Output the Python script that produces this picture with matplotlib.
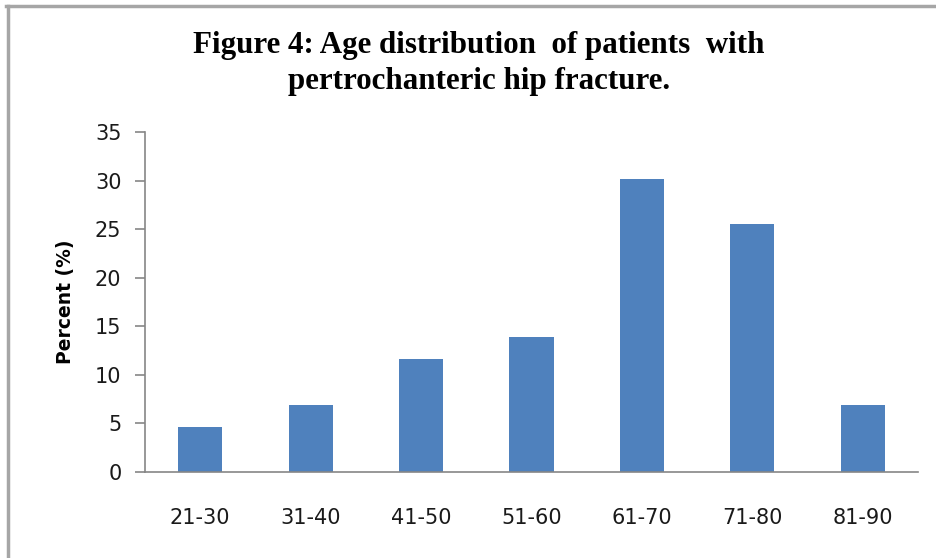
import matplotlib
matplotlib.use("Agg")
import matplotlib.pyplot as plt
from matplotlib.lines import Line2D

categories = ["21-30", "31-40", "41-50", "51-60", "61-70", "71-80", "81-90"]
percent = [4.6, 6.9, 11.6, 13.9, 30.2, 25.5, 6.9]
yticks = [0, 5, 10, 15, 20, 25, 30, 35]

W, H = 936, 558
fig = plt.figure(figsize=(W/100, H/100), dpi=100)
ax = fig.add_axes([145/W, 1-472/H, (918-145)/W, (472-132)/H])

x = list(range(len(categories)))
ax.bar(x, percent, width=0.4, color="#4F81BD", zorder=2)
ax.set_xlim(-0.5, len(categories)-0.5)
ax.set_ylim(0, 35)
ax.set_yticks(yticks)
ax.set_xticks(x)
ax.set_xticklabels(categories)

for s in ["top", "right"]:
    ax.spines[s].set_visible(False)
for s in ["left", "bottom"]:
    ax.spines[s].set_color("#868686")
    ax.spines[s].set_linewidth(1.2)

ax.tick_params(axis="y", length=7, width=1.2, color="#868686", pad=10,
               labelsize=15, labelcolor="#1a1a1a")
ax.tick_params(axis="x", length=0, pad=26, labelsize=15, labelcolor="#1a1a1a")
for lab in ax.get_xticklabels() + ax.get_yticklabels():
    lab.set_family("DejaVu Sans")

ax.set_ylabel("Percent (%)", fontsize=13.5, fontweight="bold", family="DejaVu Sans", labelpad=14)

title_font = dict(family="Liberation Serif", fontweight="bold", fontsize=22.3, ha="center", va="center")
fig.text(479/W, 1-45/H, "Figure 4: Age distribution  of patients  with", **title_font)
fig.text(479/W, 1-82/H, "pertrochanteric hip fracture.", **title_font)

# outer frame (top and left only visible)
fig.add_artist(Line2D([6/W, 1], [1-6/H, 1-6/H], transform=fig.transFigure, color="#a6a6a6", lw=2.5))
fig.add_artist(Line2D([8/W, 8/W], [0, 1-6/H], transform=fig.transFigure, color="#a6a6a6", lw=2.5))

fig.savefig("out.png", dpi=100)
